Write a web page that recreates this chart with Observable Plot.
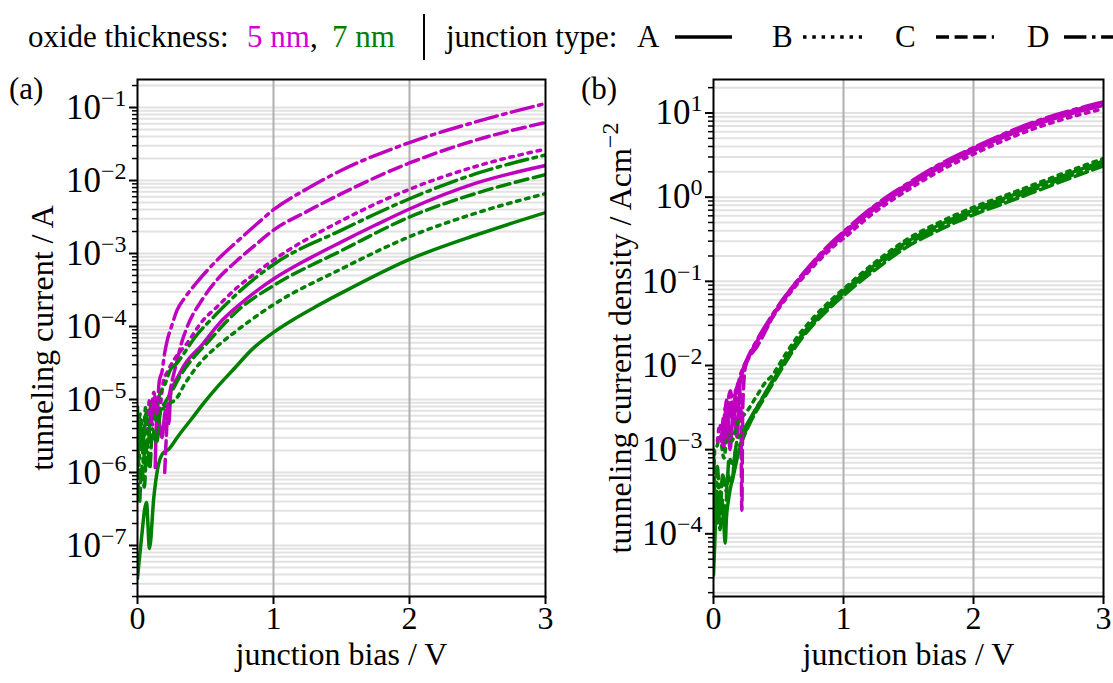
<!DOCTYPE html>
<html><head><meta charset="utf-8">
<script src="https://cdn.jsdelivr.net/npm/d3@7"></script>
<script src="https://cdn.jsdelivr.net/npm/@observablehq/plot@0.6"></script>
<style>
html,body{margin:0;padding:0;background:#fff;}
#root{position:relative;width:1113px;height:683px;overflow:hidden;font-family:"Liberation Serif","Times New Roman",serif;background:#fff;}
#pa{position:absolute;left:0;top:70px;}
#pb{position:absolute;left:575px;top:70px;}
#overlay{position:absolute;left:0;top:0;pointer-events:none;}
</style></head>
<body><div id="root"><div id="pa"></div><div id="pb"></div>
<svg id="overlay" width="1113" height="683" font-family="Liberation Serif, Times New Roman, serif">
  <g font-size="31">
    <text x="28" y="47">oxide thickness:</text>
    <text x="247" y="47" fill="#d000d6">5 nm</text>
    <text x="310" y="47">,</text>
    <text x="332" y="47" fill="#008000">7 nm</text>
    <line x1="424" x2="424" y1="14" y2="60" stroke="black" stroke-width="2"/>
    <text x="446" y="47">junction type:</text>
    <text x="637" y="47">A</text>
    <line x1="675" x2="732" y1="37" y2="37" stroke="black" stroke-width="3.5"/>
    <text x="772" y="47">B</text>
    <line x1="803" x2="862" y1="37" y2="37" stroke="black" stroke-width="3.5" stroke-dasharray="3.5,5.8"/>
    <text x="895" y="47">C</text>
    <line x1="936" x2="994" y1="37" y2="37" stroke="black" stroke-width="3.5" stroke-dasharray="13,5.6"/>
    <text x="1027" y="47">D</text>
    <line x1="1064" x2="1130" y1="37" y2="37" stroke="black" stroke-width="3.5" stroke-dasharray="22.4,5.6,3.5,5.6"/>
  </g>
  <g font-size="31">
    <text x="9" y="99">(a)</text>
    <text x="581" y="99">(b)</text>
  </g>
</svg>
</div>
<script>
// ---- Panel (a): [junction bias / V, log10(tunneling current / A)] ----
const a_7nm_A = [[0.0,-7.45],[0.025,-6.98],[0.066,-6.41],[0.088,-7.04],[0.12,-6.34],[0.15,-5.93],[0.185,-5.74],[0.23,-5.68],[0.3,-5.5],[0.4,-5.26],[0.5,-5.02],[0.6,-4.8],[0.7,-4.6],[0.85,-4.3],[1.0,-4.08],[1.15,-3.9],[1.3,-3.74],[1.5,-3.54],[2.0,-3.08],[2.5,-2.74],[3.0,-2.44]];
const a_7nm_B = [[0.0,-5.5],[0.02,-5.2],[0.04,-5.6],[0.06,-5.1],[0.09,-5.35],[0.12,-5.05],[0.16,-5.2],[0.2,-5.1],[0.24,-5.05],[0.28,-5.0],[0.35,-4.78],[0.45,-4.52],[0.58,-4.28],[0.7,-4.1],[0.82,-3.93],[1.0,-3.7],[1.5,-3.21],[2.0,-2.77],[2.5,-2.44],[3.0,-2.18]];
const a_7nm_C = [[0.0,-5.9],[0.015,-6.4],[0.03,-5.9],[0.05,-6.2],[0.07,-5.6],[0.09,-5.95],[0.11,-5.4],[0.14,-5.6],[0.17,-5.15],[0.2,-5.05],[0.25,-4.9],[0.3,-4.72],[0.38,-4.5],[0.53,-4.19],[0.63,-3.98],[0.75,-3.76],[1.0,-3.44],[1.5,-2.96],[2.0,-2.5],[2.5,-2.17],[3.0,-1.92]];
const a_7nm_D = [[0.0,-5.1],[0.01,-5.9],[0.025,-5.3],[0.045,-5.9],[0.06,-5.2],[0.08,-5.6],[0.1,-5.05],[0.13,-5.3],[0.16,-4.95],[0.2,-4.8],[0.24,-4.6],[0.29,-4.5],[0.43,-4.13],[0.58,-3.83],[0.75,-3.52],[1.0,-3.15],[1.5,-2.68],[2.0,-2.25],[2.5,-1.9],[3.0,-1.65]];
const a_5nm_A = [[0.13,-5.93],[0.145,-5.15],[0.18,-5.52],[0.206,-5.15],[0.23,-5.33],[0.245,-4.9],[0.27,-4.78],[0.3,-4.68],[0.34,-4.54],[0.48,-4.24],[0.6,-3.96],[0.75,-3.7],[1.0,-3.35],[1.25,-3.08],[1.5,-2.84],[1.75,-2.61],[2.0,-2.39],[2.5,-2.03],[3.0,-1.795]];
const a_5nm_B = [[0.07,-5.45],[0.09,-5.0],[0.11,-5.35],[0.13,-4.95],[0.16,-5.15],[0.19,-4.75],[0.22,-4.62],[0.27,-4.45],[0.36,-4.24],[0.48,-3.92],[0.58,-3.74],[0.73,-3.47],[0.875,-3.26],[1.0,-3.09],[1.5,-2.55],[2.0,-2.12],[2.5,-1.8],[3.0,-1.57]];
const a_5nm_C = [[0.2,-6.0],[0.212,-5.5],[0.222,-5.1],[0.24,-4.88],[0.26,-4.7],[0.287,-4.5],[0.32,-4.25],[0.36,-4.03],[0.48,-3.62],[0.58,-3.37],[0.73,-3.1],[0.875,-2.87],[1.0,-2.68],[1.25,-2.42],[1.5,-2.18],[2.0,-1.76],[2.5,-1.44],[3.0,-1.205]];
const a_5nm_D = [[0.1,-5.3],[0.12,-4.9],[0.14,-5.2],[0.16,-4.75],[0.18,-4.62],[0.2,-4.36],[0.22,-4.18],[0.25,-4.0],[0.29,-3.78],[0.35,-3.6],[0.43,-3.41],[0.58,-3.1],[0.73,-2.84],[0.875,-2.6],[1.0,-2.4],[1.25,-2.11],[1.5,-1.86],[2.0,-1.48],[2.5,-1.19],[3.0,-0.945]];

// ---- Panel (b): [junction bias / V, log10(tunneling current density / A cm^-2)] ----
const b_7nm_A = [[0.0,-4.49],[0.01,-4.1],[0.02,-3.7],[0.035,-3.87],[0.05,-3.5],[0.064,-3.63],[0.08,-3.9],[0.09,-4.11],[0.1,-3.8],[0.115,-3.6],[0.135,-3.42],[0.154,-3.3],[0.19,-3.05],[0.23,-2.85],[0.282,-2.65],[0.385,-2.37],[0.45,-2.2],[0.54,-1.97],[0.64,-1.72],[0.77,-1.47],[0.92,-1.23],[1.06,-1.04],[1.23,-0.82],[1.49,-0.53],[1.75,-0.32],[2.0,-0.15],[2.26,0.0],[2.515,0.15],[2.77,0.3],[3.0,0.43]];
const b_7nm_B = [[0.0,-3.5],[0.01,-3.0],[0.026,-2.96],[0.05,-2.85],[0.08,-3.1],[0.11,-2.8],[0.14,-2.9],[0.18,-2.7],[0.256,-2.55],[0.333,-2.36],[0.4,-2.2],[0.45,-2.12],[0.54,-1.9],[0.64,-1.67],[0.77,-1.43],[0.92,-1.2],[1.06,-1.01],[1.23,-0.79],[1.49,-0.5],[1.75,-0.29],[2.0,-0.12],[2.26,0.03],[2.515,0.18],[2.77,0.33],[3.0,0.46]];
const b_7nm_C = [[0.0,-3.4],[0.015,-3.9],[0.03,-3.5],[0.05,-3.95],[0.07,-3.6],[0.09,-3.85],[0.11,-3.3],[0.14,-3.4],[0.17,-3.0],[0.2,-2.95],[0.24,-2.82],[0.282,-2.68],[0.385,-2.4],[0.45,-2.23],[0.54,-2.0],[0.64,-1.76],[0.77,-1.51],[0.92,-1.28],[1.06,-1.09],[1.23,-0.88],[1.49,-0.59],[1.75,-0.38],[2.0,-0.21],[2.26,-0.06],[2.515,0.09],[2.77,0.24],[3.0,0.37]];
const b_7nm_D = [[0.0,-3.0],[0.015,-3.6],[0.03,-3.2],[0.05,-3.7],[0.07,-3.3],[0.1,-3.5],[0.12,-3.1],[0.15,-3.2],[0.18,-2.9],[0.22,-2.8],[0.282,-2.63],[0.385,-2.36],[0.45,-2.19],[0.54,-1.96],[0.64,-1.73],[0.77,-1.49],[0.92,-1.25],[1.06,-1.06],[1.23,-0.85],[1.49,-0.56],[1.75,-0.35],[2.0,-0.18],[2.26,-0.03],[2.515,0.12],[2.77,0.27],[3.0,0.4]];
const b_5nm_A = [[0.08,-3.0],[0.1,-2.41],[0.128,-3.0],[0.154,-2.49],[0.18,-2.85],[0.205,-2.21],[0.23,-2.05],[0.256,-1.95],[0.29,-1.84],[0.333,-1.72],[0.41,-1.52],[0.49,-1.33],[0.615,-1.07],[0.77,-0.79],[0.92,-0.56],[1.0,-0.45],[1.08,-0.34],[1.23,-0.15],[1.49,0.12],[1.75,0.36],[2.0,0.55],[2.26,0.73],[2.515,0.88],[2.77,1.0],[3.0,1.09]];
const b_5nm_B = [[0.03,-2.9],[0.05,-2.7],[0.07,-2.95],[0.09,-2.5],[0.11,-2.7],[0.14,-2.35],[0.17,-2.42],[0.2,-2.15],[0.23,-2.02],[0.256,-1.94],[0.29,-1.84],[0.333,-1.72],[0.41,-1.53],[0.49,-1.35],[0.615,-1.09],[0.77,-0.82],[0.92,-0.59],[1.0,-0.49],[1.23,-0.19],[1.49,0.08],[1.75,0.32],[2.0,0.51],[2.26,0.69],[2.515,0.84],[2.77,0.96],[3.0,1.05]];
const b_5nm_C = [[0.1,-2.6],[0.13,-2.3],[0.16,-2.6],[0.19,-2.2],[0.21,-2.5],[0.218,-3.72],[0.225,-2.5],[0.245,-2.02],[0.29,-1.87],[0.333,-1.78],[0.41,-1.56],[0.49,-1.32],[0.615,-1.05],[0.77,-0.77],[0.92,-0.53],[1.0,-0.42],[1.23,-0.12],[1.49,0.15],[1.75,0.39],[2.0,0.58],[2.26,0.76],[2.515,0.91],[2.77,1.03],[3.0,1.12]];
const b_5nm_D = [[0.06,-2.9],[0.08,-2.6],[0.1,-2.85],[0.12,-2.45],[0.15,-2.65],[0.17,-2.3],[0.2,-2.2],[0.23,-2.03],[0.256,-1.93],[0.29,-1.82],[0.333,-1.7],[0.41,-1.5],[0.49,-1.31],[0.615,-1.05],[0.77,-0.76],[0.92,-0.52],[1.0,-0.41],[1.23,-0.11],[1.49,0.16],[1.75,0.4],[2.0,0.59],[2.26,0.77],[2.515,0.92],[2.77,1.04],[3.0,1.13]];

// ---- axes / ticks ----
const xTicks = [0, 1, 2, 3];
const aMajorTicks = [1e-7, 1e-6, 1e-5, 1e-4, 1e-3, 1e-2, 1e-1];
const aTickLabels = ["10^−7","10^−6","10^−5","10^−4","10^−3","10^−2","10^−1"];
const bMajorTicks = [1e-4, 1e-3, 1e-2, 1e-1, 1e0, 1e1];
const bTickLabels = ["10^−4","10^−3","10^−2","10^−1","10^0","10^1"];
const junctionTypes = ["A", "B", "C", "D"];
const thicknessColor = {"5 nm": "#bf00bf", "7 nm": "#008000"};
const dashOf = {A: undefined, B: "3.5,5.8", C: "13,5.6", D: "22.4,5.6,3.5,5.6"};

const seriesA = [
  {t:"7 nm", j:"A", pts:a_7nm_A},{t:"7 nm", j:"B", pts:a_7nm_B},{t:"7 nm", j:"C", pts:a_7nm_C},{t:"7 nm", j:"D", pts:a_7nm_D},
  {t:"5 nm", j:"A", pts:a_5nm_A},{t:"5 nm", j:"B", pts:a_5nm_B},{t:"5 nm", j:"C", pts:a_5nm_C},{t:"5 nm", j:"D", pts:a_5nm_D}
];
const seriesB = [
  {t:"7 nm", j:"A", pts:b_7nm_A},{t:"7 nm", j:"B", pts:b_7nm_B},{t:"7 nm", j:"C", pts:b_7nm_C},{t:"7 nm", j:"D", pts:b_7nm_D},
  {t:"5 nm", j:"A", pts:b_5nm_A},{t:"5 nm", j:"B", pts:b_5nm_B},{t:"5 nm", j:"C", pts:b_5nm_C},{t:"5 nm", j:"D", pts:b_5nm_D}
];
const toRows = (series) => series.flatMap(s => s.pts.map(([V, l]) => ({V, I: Math.pow(10, l), t: s.t, j: s.j, c: thicknessColor[s.t]})));

function minorTicks(domain) {
  const out = [];
  const e0 = Math.floor(Math.log10(domain[0])), e1 = Math.ceil(Math.log10(domain[1]));
  for (let e = e0; e <= e1; e++) for (let k = 2; k <= 9; k++) {
    const v = k * Math.pow(10, e);
    if (v >= domain[0] && v <= domain[1]) out.push(v);
  }
  return out;
}

function makePanel({rows, width, marginLeft, marginRight, domain, majors, labels, ylabel, labelDx}) {
  const minors = minorTicks(domain);
  return Plot.plot({
    width, height: 613, marginLeft, marginRight, marginTop: 9, marginBottom: 87,
    style: {fontFamily: '"Liberation Serif", "Times New Roman", serif', fontSize: "32px", background: "white", color: "black", overflow: "visible"},
    x: {domain: [0, 3]},
    y: {type: "log", domain},
    marks: [
      Plot.gridY(minors.concat(majors), {stroke: "#e2e2e2", strokeOpacity: 1, strokeWidth: 2}),
      Plot.gridX([1, 2], {stroke: "#b0b0b0", strokeOpacity: 1, strokeWidth: 2}),
      ...junctionTypes.map(jt => Plot.line(rows.filter(r => r.j === jt), {
        x: "V", y: "I", z: "t", stroke: "c", strokeWidth: 3.5, strokeDasharray: dashOf[jt], clip: true, curve: "monotone-x"
      })),
      Plot.frame({stroke: "black", strokeWidth: 2}),
      Plot.axisX(xTicks, {tickSize: 8, strokeWidth: 2, tickPadding: 2, fontSize: 32, label: null, tickFormat: d => String(d)}),
      Plot.axisY(majors, {tickSize: 8, strokeWidth: 2, tickPadding: 3, fontSize: 35, label: null, tickFormat: (d) => labels[majors.indexOf(d)]}),
      Plot.axisY(minors, {tickSize: 5, strokeWidth: 1.5, label: null, tickFormat: () => ""}),
      Plot.text([ylabel], {text: d => d, frameAnchor: "left", textAnchor: "middle", lineAnchor: "middle", rotate: -90, dx: labelDx, fontSize: 32}),
      Plot.text(["junction bias / V"], {text: d => d, frameAnchor: "bottom", textAnchor: "middle", dy: 68, fontSize: 32})
    ]
  });
}

function supify(svg, supSize, rise) {
  const ns = "http://www.w3.org/2000/svg";
  svg.querySelectorAll("text").forEach(t => {
    const s = t.textContent;
    if (!s.includes("^")) return;
    const [base, sup] = s.split("^");
    while (t.firstChild) t.removeChild(t.firstChild);
    const t1 = document.createElementNS(ns, "tspan"); t1.textContent = base;
    const t2 = document.createElementNS(ns, "tspan"); t2.textContent = sup;
    t2.setAttribute("dy", String(-rise)); t2.style.fontSize = supSize + "px";
    t.append(t1, t2);
  });
}

const pa = makePanel({rows: toRows(seriesA), width: 565, marginLeft: 137, marginRight: 20,
  domain: [2.0e-8, 0.242], majors: aMajorTicks, labels: aTickLabels, ylabel: "tunneling current / A", labelDx: -95});
const pb = makePanel({rows: toRows(seriesB), width: 538, marginLeft: 138, marginRight: 10,
  domain: [1.8e-5, 25], majors: bMajorTicks, labels: bTickLabels, ylabel: "tunneling current density / Acm^−2", labelDx: -93});
supify(pa, 24, 13); supify(pb, 24, 13);
document.getElementById("pa").append(pa);
document.getElementById("pb").append(pb);
</script>
</body></html>
